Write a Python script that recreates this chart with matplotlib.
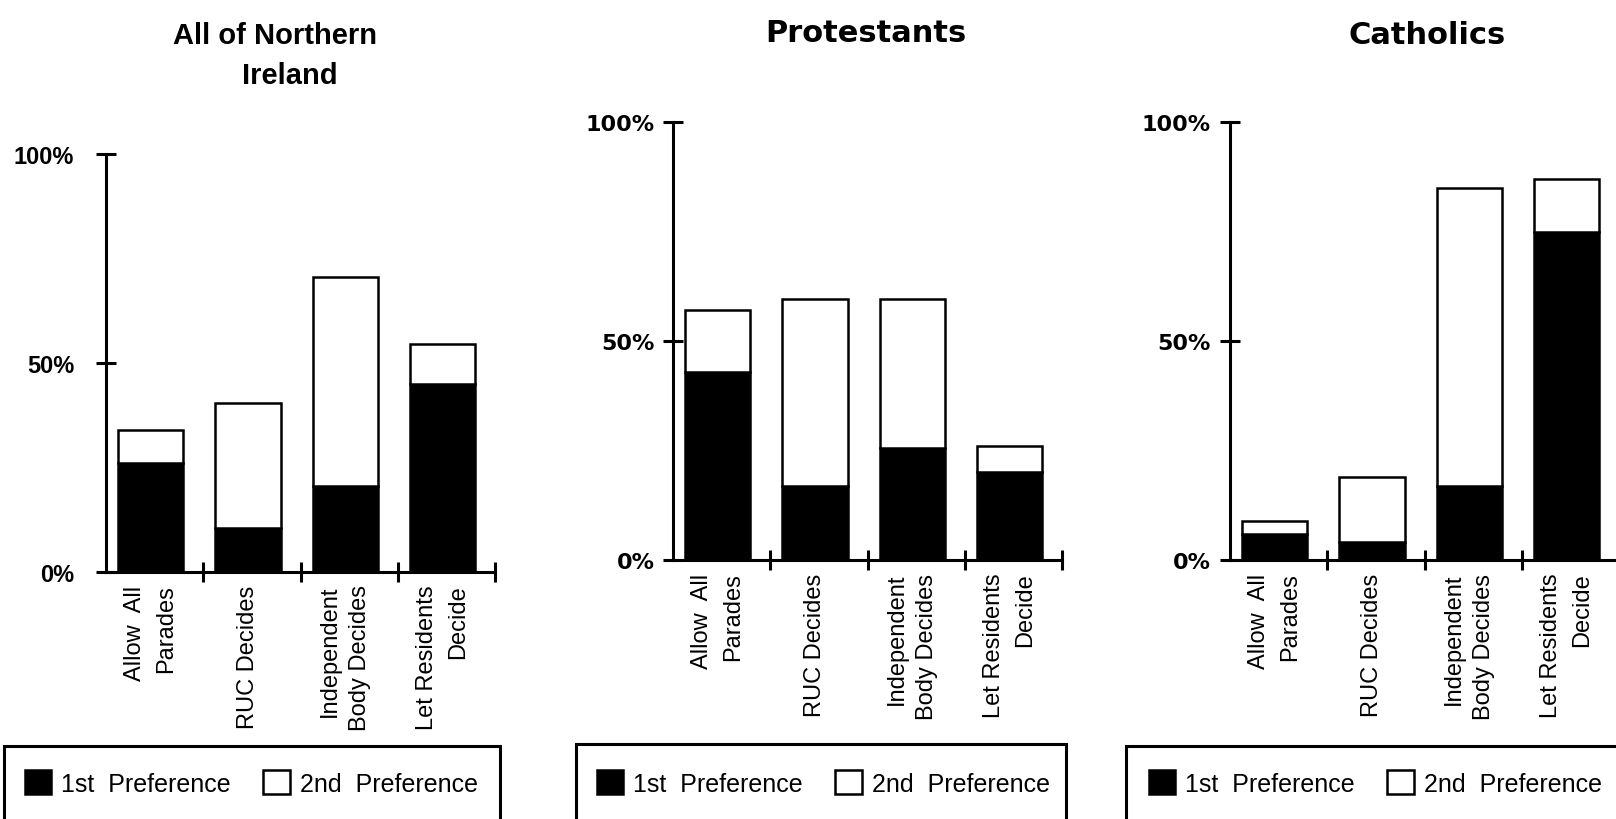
import matplotlib
matplotlib.use("Agg")
import matplotlib.pyplot as plt
from matplotlib.patches import Rectangle
from matplotlib.ticker import FuncFormatter

# ---- data ----
categories = ["Allow  All\nParades", "RUC Decides", "Independent\nBody Decides", "Let Residents\nDecide"]
all_first = [26, 10.5, 20.5, 45]
all_second = [8, 30, 50, 9.5]
prot_first = [43, 17, 25.5, 20]
prot_second = [14, 42.5, 34, 6]
cath_first = [6, 4, 17, 75]
cath_second = [3, 15, 68, 12]
y_ticks = [0, 50, 100]
legend_labels = ["1st  Preference", "2nd  Preference"]

W, H = 1616, 820
fig = plt.figure(figsize=(W / 100, H / 100), dpi=100)
fig.patch.set_facecolor("white")

ARIAL = ["Liberation Sans", "DejaVu Sans"]
WIDE = ["DejaVu Sans"]

panels = [
    dict(first=all_first, second=all_second, rect=(106, 573, 389, 418),
         titles=[("All of Northern", 275, 36), ("Ireland", 290, 76)], tfont=ARIAL, tsize=21,
         tickfont=ARIAL, ticksize=17, tickpad=16,
         legend_x=25, box=(4, 747, 496)),
    dict(first=prot_first, second=prot_second, rect=(673, 561, 389, 438),
         titles=[("Protestants", 866, 33)], tfont=WIDE, tsize=22,
         tickfont=WIDE, ticksize=16, tickpad=6,
         legend_x=597, box=(576, 745, 490)),
    dict(first=cath_first, second=cath_second, rect=(1230, 561, 389, 438),
         titles=[("Catholics", 1427, 35)], tfont=WIDE, tsize=22,
         tickfont=WIDE, ticksize=16, tickpad=7,
         legend_x=1149, box=(1126, 747, 520)),
]

x = list(range(len(categories)))
for p in panels:
    l, b, w, h = p["rect"]
    ax = fig.add_axes([l / W, 1 - b / H, w / W, h / H])
    ax.set_facecolor("none")
    b1 = ax.bar(x, p["first"], width=0.67, color="black", edgecolor="black",
                linewidth=1.8, label=legend_labels[0])
    b2 = ax.bar(x, p["second"], width=0.67, bottom=p["first"], color="white",
                edgecolor="black", linewidth=1.8, label=legend_labels[1])
    ax.set_xlim(-0.46, 3.54)
    ax.set_ylim(0, 100)
    for s in ["top", "right"]:
        ax.spines[s].set_visible(False)
    for s in ["left", "bottom"]:
        ax.spines[s].set_linewidth(2.2)
    ax.spines["left"].set_bounds(0, 100)
    ax.set_yticks(y_ticks)
    ax.yaxis.set_major_formatter(FuncFormatter(lambda v, pos: f"{int(v)}%"))
    ax.tick_params(axis="y", direction="inout", length=14, width=2.2,
                   pad=p["tickpad"], labelsize=p["ticksize"])
    for t in ax.get_yticklabels():
        t.set_family(p["tickfont"])
        t.set_fontweight("bold")
    ax.set_xticks(x)
    ax.set_xticklabels(categories, rotation=90, family=ARIAL, fontsize=17,
                       va="top", ha="center", multialignment="right",
                       linespacing=1.5)
    ax.tick_params(axis="x", which="major", length=0, pad=9)
    ax.set_xticks([0.54, 1.54, 2.54, 3.54], minor=True)
    ax.tick_params(axis="x", which="minor", direction="inout", length=14, width=2.2)

    for txt, tx, ty in p["titles"]:
        fig.text(tx / W, 1 - ty / H, txt, ha="center", va="center",
                 fontsize=p["tsize"], fontweight="bold", family=p["tfont"])

    bx, by, bw = p["box"]
    fig.patches.append(Rectangle((bx / W, 1 - (by + 120) / H), bw / W, 120 / H,
                                 transform=fig.transFigure, fill=False,
                                 edgecolor="black", linewidth=2.2))
    fig.legend(handles=[b1, b2], labels=legend_labels, loc="center left",
               bbox_to_anchor=(p["legend_x"] / W, 1 - 784 / H), ncol=2,
               frameon=False, prop={"family": ARIAL, "size": 18},
               handlelength=1.05, handleheight=1.05, handletextpad=0.4,
               columnspacing=1.3, borderpad=0, borderaxespad=0)

fig.savefig("out.png", dpi=100, facecolor="white")
